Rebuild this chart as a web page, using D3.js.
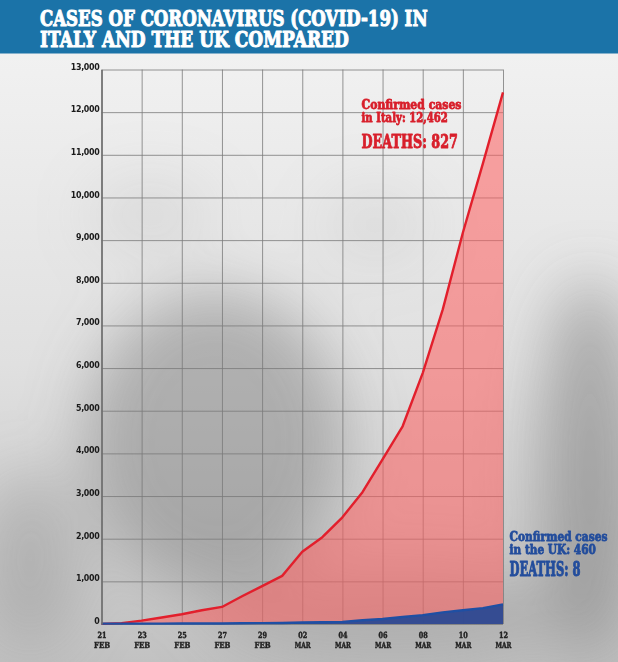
<!DOCTYPE html>
<html>
<head>
<meta charset="utf-8">
<script src="https://cdn.jsdelivr.net/npm/d3@7"></script>
<style>
  html, body { margin: 0; padding: 0; background: #e6e6e6; }
  svg { display: block; }
</style>
</head>
<body>
<svg id="chart" width="618" height="662"></svg>
<script>
// ---------------- DATA ----------------
const dates = ["2020-02-21","2020-02-22","2020-02-23","2020-02-24","2020-02-25","2020-02-26","2020-02-27",
  "2020-02-28","2020-02-29","2020-03-01","2020-03-02","2020-03-03","2020-03-04","2020-03-05","2020-03-06",
  "2020-03-07","2020-03-08","2020-03-09","2020-03-10","2020-03-11","2020-03-12"];
const italyCases = [3, 20, 79, 152, 229, 322, 400, 650, 888, 1128, 1694, 2036, 2502, 3089, 3858, 4636, 5883, 7375, 9172, 10800, 12462];
const ukCases    = [9, 9, 9, 9, 13, 13, 13, 16, 20, 23, 36, 40, 51, 87, 116, 163, 209, 273, 321, 373, 460];
const yTicks = [0,1000,2000,3000,4000,5000,6000,7000,8000,9000,10000,11000,12000,13000];
const xTickDays   = ["21","23","25","27","29","02","04","06","08","10","12"];
const xTickMonths = ["FEB","FEB","FEB","FEB","FEB","MAR","MAR","MAR","MAR","MAR","MAR"];
const xTickDates  = ["2020-02-21","2020-02-23","2020-02-25","2020-02-27","2020-02-29","2020-03-02","2020-03-04","2020-03-06","2020-03-08","2020-03-10","2020-03-12"];
const titleLines = ["CASES OF CORONAVIRUS (COVID-19) IN", "ITALY AND THE UK COMPARED"];
const italyNote = ["Confirmed cases", "in Italy: 12,462", "DEATHS: 827"];
const ukNote = ["Confirmed cases", "in the UK: 460", "DEATHS: 8"];

// ---------------- SETUP ----------------
const parse = d3.timeParse("%Y-%m-%d");
const svg = d3.select("#chart");
const W = 618, H = 662;
const plot = { left: 101.5, right: 503, top: 69.5, bottom: 624 };
const slab = "'DejaVu Serif',serif";
const sans = "'DejaVu Sans Condensed','DejaVu Sans',sans-serif";

const x = d3.scaleTime().domain([parse(dates[0]), parse(dates[dates.length-1])]).range([plot.left, plot.right]);
const y = d3.scaleLinear().domain([0, 13000]).range([plot.bottom, plot.top]);

// heavy condensed slab text: squeezed horizontally to a target width, thickened with a stroke
function fitText(parent, str, tx, ty, size, width, color, anchor, weight) {
  const g = parent.append("g");
  const t = g.append("text")
    .attr("font-family", slab).attr("font-weight", "bold").attr("font-size", size)
    .attr("fill", color).attr("stroke", color).attr("stroke-width", weight == null ? 0.6 : weight)
    .attr("stroke-linejoin", "round")
    .attr("text-anchor", anchor || "start").text(str);
  const natural = t.node().getComputedTextLength();
  const sx = width / natural;
  g.attr("transform", `translate(${tx},${ty}) scale(${sx},1)`);
  return t;
}

// ---------------- BACKGROUND (photo impression) ----------------
const defs = svg.append("defs");
const bgGrad = defs.append("linearGradient").attr("id","bgGrad").attr("x1",0).attr("y1",0).attr("x2",0).attr("y2",1);
bgGrad.append("stop").attr("offset","0%").attr("stop-color","#f4f4f4");
bgGrad.append("stop").attr("offset","55%").attr("stop-color","#e0e0e0");
bgGrad.append("stop").attr("offset","100%").attr("stop-color","#c2c2c2");
defs.append("filter").attr("id","blur").attr("x","-50%").attr("y","-50%").attr("width","200%").attr("height","200%")
  .append("feGaussianBlur").attr("stdDeviation", 30);

svg.append("rect").attr("width", W).attr("height", H).attr("fill", "url(#bgGrad)");
const blobs = svg.append("g").attr("filter","url(#blur)");
blobs.append("ellipse").attr("cx",215).attr("cy",440).attr("rx",130).attr("ry",150).attr("fill","#808080").attr("opacity",0.5);
blobs.append("ellipse").attr("cx",590).attr("cy",470).attr("rx",50).attr("ry",190).attr("fill","#707070").attr("opacity",0.5);
blobs.append("ellipse").attr("cx",30).attr("cy",560).attr("rx",50).attr("ry",90).attr("fill","#8a8a8a").attr("opacity",0.4);
blobs.append("ellipse").attr("cx",390).attr("cy",615).attr("rx",180).attr("ry",45).attr("fill","#8a8a8a").attr("opacity",0.4);
blobs.append("ellipse").attr("cx",150).attr("cy",215).attr("rx",60).attr("ry",35).attr("fill","#a0a0a0").attr("opacity",0.2);
blobs.append("ellipse").attr("cx",375).attr("cy",225).attr("rx",50).attr("ry",35).attr("fill","#a0a0a0").attr("opacity",0.18);

// ---------------- HEADER ----------------
svg.append("rect").attr("x",0).attr("y",0).attr("width",W).attr("height",53.5).attr("fill","#1b73a8");
const titleLens = [388, 309];
const titleG = svg.append("g");
titleLines.forEach((s, i) => fitText(titleG, s, 40, 26 + i * 20.7, 22.5, titleLens[i], "#ffffff", "start", 1.1));

// ---------------- GRID ----------------
const grid = svg.append("g").attr("class","grid");
grid.append("g")
  .attr("transform", `translate(0,${plot.bottom})`)
  .call(d3.axisBottom(x).tickValues(xTickDates.map(parse)).tickSize(-(plot.bottom - plot.top)).tickFormat(""))
  .call(g => g.select(".domain").remove())
  .call(g => g.selectAll("line").attr("stroke","#7a7a7a").attr("stroke-width",0.8));
grid.append("g")
  .attr("transform", `translate(${plot.left},0)`)
  .call(d3.axisLeft(y).tickValues(yTicks).tickSize(-(plot.right - plot.left)).tickFormat(""))
  .call(g => g.select(".domain").remove())
  .call(g => g.selectAll("line").attr("stroke","#7a7a7a").attr("stroke-width",0.8));

// ---------------- SERIES ----------------
const italyData = dates.map((d,i) => ({ date: parse(d), v: italyCases[i] }));
const ukData = dates.map((d,i) => ({ date: parse(d), v: ukCases[i] }));

const area = d3.area().x(d => x(d.date)).y0(y(0)).y1(d => y(d.v));
const line = d3.line().x(d => x(d.date)).y(d => y(d.v));

svg.append("path").datum(italyData).attr("d", area).attr("fill", "#ff5f5f").attr("fill-opacity", 0.55);
svg.append("path").datum(ukData).attr("d", area).attr("fill", "#2c4a93").attr("fill-opacity", 0.95);
svg.append("path").datum(italyData).attr("d", line).attr("fill","none").attr("stroke","#e21f2c").attr("stroke-width",2.4).attr("stroke-linejoin","round");
svg.append("path").datum(ukData).attr("d", line).attr("fill","none").attr("stroke","#1f4fa3").attr("stroke-width",2.4).attr("stroke-linejoin","round");

// ---------------- AXES ----------------
const yAxis = svg.append("g").attr("transform", `translate(${plot.left},0)`)
  .call(d3.axisLeft(y).tickValues(yTicks).tickSize(0).tickPadding(2).tickFormat(d3.format(",")));
yAxis.select(".domain").attr("stroke","#6e6e6e").attr("stroke-width",1.6);
yAxis.selectAll("text")
  .attr("font-family", sans).attr("font-weight","bold").attr("font-size", 8.8)
  .attr("fill","#1a1a1a").attr("dy", "-0.05em").attr("letter-spacing", -0.3);

// bottom axis labels (two-line), squeezed slab serif
const xAxis = svg.append("g").attr("transform", `translate(0,${plot.bottom})`)
  .call(d3.axisBottom(x).tickValues(xTickDates.map(parse)).tickSize(0).tickFormat(""));
xAxis.select(".domain").remove();
xAxis.selectAll(".tick").each(function(d, i) {
  const tk = d3.select(this);
  fitText(tk, xTickDays[i], 0, 14, 8.4, 9, "#222", "middle", 0.45);
  fitText(tk, xTickMonths[i], 0, 23.5, 8.4, 16, "#222", "middle", 0.45);
});

// ---------------- ANNOTATIONS ----------------
const itA = svg.append("g");
fitText(itA, italyNote[0], 361.5, 108.5, 12.3, 100, "#d81f2b", "start", 0.8);
fitText(itA, italyNote[1], 361.5, 121.8, 12.3, 86.5, "#d81f2b", "start", 0.8);
fitText(itA, italyNote[2], 361.5, 147.5, 18, 96.5, "#d81f2b", "start", 0.9);

const ukA = svg.append("g");
fitText(ukA, ukNote[0], 509.5, 540.5, 12.6, 98, "#234d9c", "start", 0.8);
fitText(ukA, ukNote[1], 509.5, 554.2, 12.6, 86.5, "#234d9c", "start", 0.8);
fitText(ukA, ukNote[2], 509.5, 575.5, 20, 71, "#234d9c", "start", 1);
</script>
</body>
</html>
